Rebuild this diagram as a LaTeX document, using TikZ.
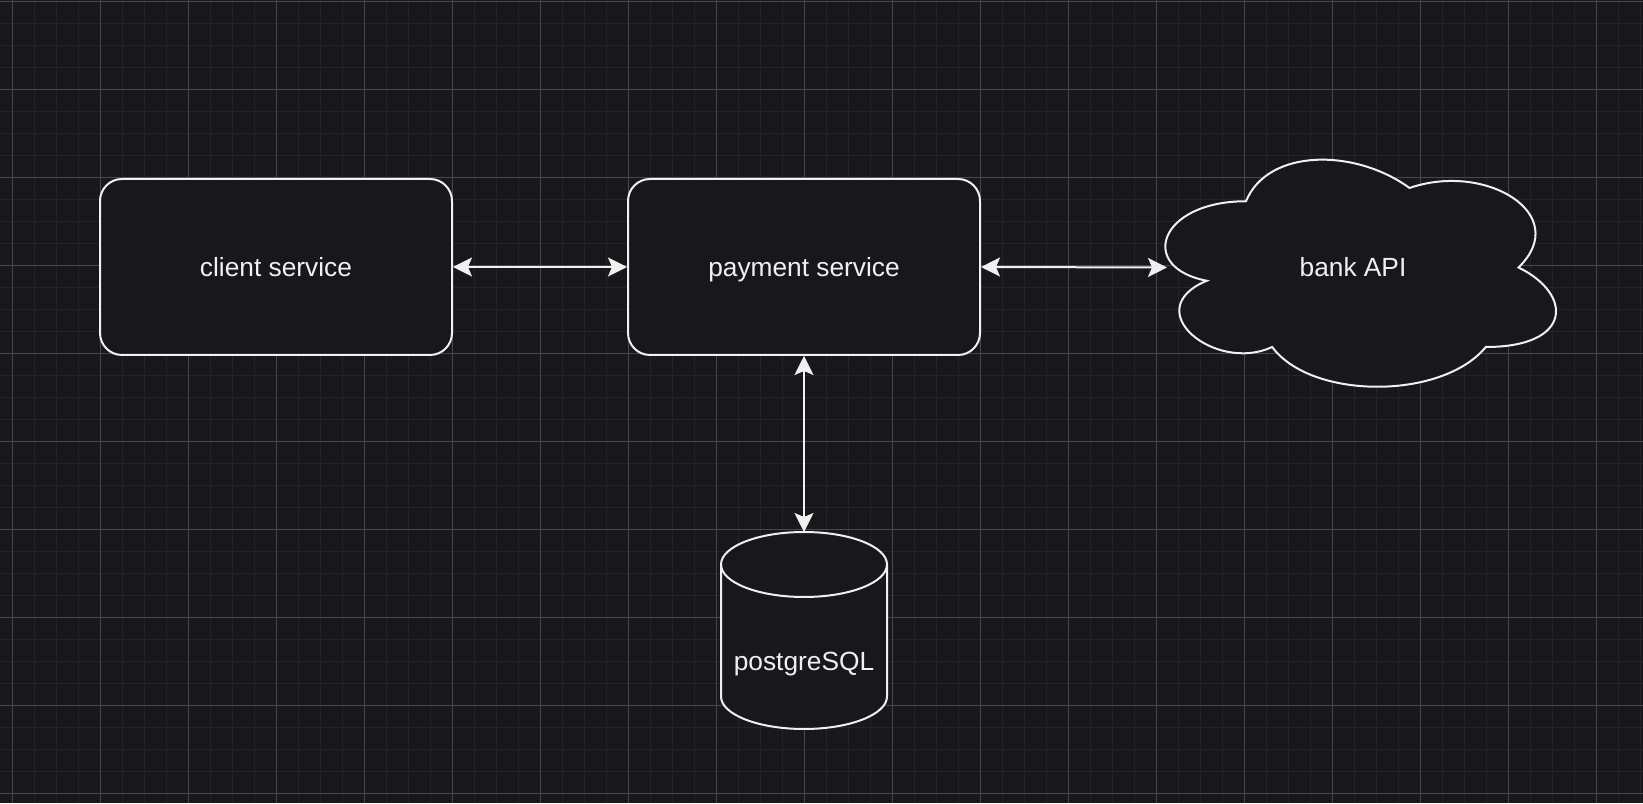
\documentclass[tikz,border=0pt]{standalone}
\usepackage{fontspec}
\setmainfont{Liberation Sans}
\usetikzlibrary{arrows.meta}
\definecolor{canvas}{RGB}{24,23,28}
\definecolor{gridminor}{RGB}{37,36,42}
\definecolor{gridmajor}{RGB}{72,71,76}
\definecolor{ink}{HTML}{F0F0F0}

\begin{document}
\begin{tikzpicture}[
  x=1pt, y=1pt,
  service/.style={draw=ink, fill=canvas, line width=2pt, rounded corners=22pt, minimum width=352pt, minimum height=176pt, text=ink, text height=20pt, text depth=0pt, font=\fontsize{26.3}{31}\selectfont},
  holder/.style={inner sep=0pt, outer sep=0pt},
  txt/.style={text=ink, font=\fontsize{26.3}{31}\selectfont},
  shapeline/.style={draw=ink, fill=canvas, line width=2pt},
  link/.style={ink, line width=2pt, {Stealth[length=19pt, width=19pt, inset=4pt]}-{Stealth[length=19pt, width=19pt, inset=4pt]}},
]
% canvas and grid
\fill[canvas] (0,0) rectangle (1643,803);
\useasboundingbox (0,0) rectangle (1643,803);
\foreach \gx in {12.3,34.3,...,1643} \draw[gridminor, line width=1pt] (\gx,0) -- (\gx,803);
\foreach \gy in {9.7,31.7,...,803} \draw[gridminor, line width=1pt] (0,\gy) -- (1643,\gy);
\foreach \gx in {12.3,100.3,...,1643} \draw[gridmajor, line width=1pt] (\gx,0) -- (\gx,803);
\foreach \gy in {9.7,97.7,...,803} \draw[gridmajor, line width=1pt] (0,\gy) -- (1643,\gy);

\node[service] (client) at (276,536) {client service};
\node[service] (payment) at (804,536) {payment service};

% cloud
\begin{scope}[shift={(1137,403)}, x=436pt, y=265pt]
\draw[shapeline] (0.25,0.75) .. controls (0.05,0.75) and (0,0.5) .. (0.16,0.45)
  .. controls (0,0.34) and (0.18,0.1) .. (0.31,0.2)
  .. controls (0.4,0) and (0.7,0) .. (0.8,0.2)
  .. controls (1,0.2) and (1,0.4) .. (0.875,0.5)
  .. controls (1,0.7) and (0.8,0.9) .. (0.625,0.8)
  .. controls (0.5,0.95) and (0.3,0.95) .. (0.25,0.75) -- cycle;
\end{scope}
\node[holder, txt, minimum width=372pt, minimum height=265pt] (bank) at (1353,535.5) {bank API};

% database
\draw[shapeline] (721,238.5) -- (721,106.5) arc[start angle=180, end angle=360, x radius=83pt, y radius=32.5pt]
  -- (887,238.5) arc[start angle=0, end angle=180, x radius=83pt, y radius=32.5pt] -- cycle;
\draw[shapeline, fill=none] (721,238.5) arc[start angle=180, end angle=360, x radius=83pt, y radius=32.5pt];
\node[holder, minimum width=166pt, minimum height=197pt] (db) at (804,172.5) {};
\node[txt] (dbname) at (804,139) {postgreSQL};

\draw[link] (client.east) -- (payment.west);
\draw[link] (payment.east) -- (bank.west);
\draw[link] (payment.south) -- (db.north);
\end{tikzpicture}
\end{document}
